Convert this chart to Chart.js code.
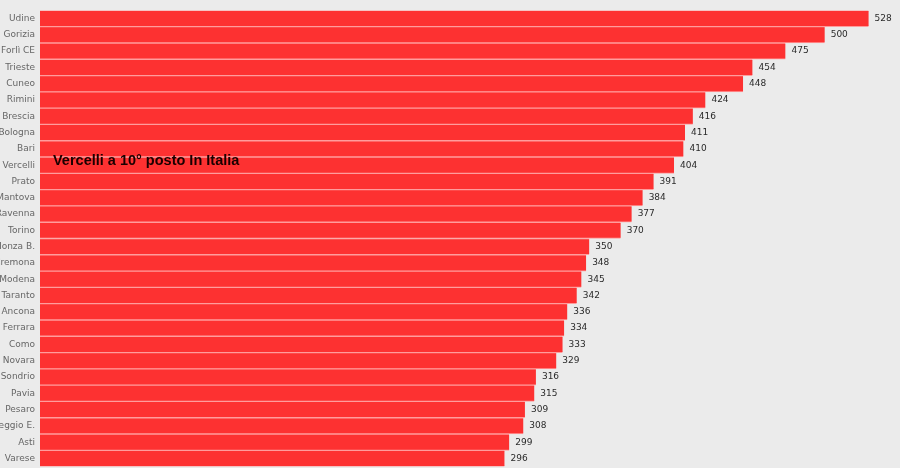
<!DOCTYPE html>
<html>
<head>
<meta charset="utf-8">
<script src="https://cdn.jsdelivr.net/npm/chart.js@4"></script>
<style>
  html, body { margin: 0; padding: 0; background: #ebebeb; overflow: hidden; }
  #wrap { width: 900px; height: 477px; position: relative; }
</style>
</head>
<body>
<div id="wrap"><canvas id="barChart"></canvas></div>
<script>
const cities = ['Udine', 'Gorizia', 'Forlì CE', 'Trieste', 'Cuneo', 'Rimini', 'Brescia', 'Bologna', 'Bari', 'Vercelli',
  'Prato', 'Mantova', 'Ravenna', 'Torino', 'Monza B.', 'Cremona', 'Modena', 'Taranto', 'Ancona', 'Ferrara',
  'Como', 'Novara', 'Sondrio', 'Pavia', 'Pesaro', 'Reggio E.', 'Asti', 'Varese'];
const values = [528, 500, 475, 454, 448, 424, 416, 411, 410, 404,
  391, 384, 377, 370, 350, 348, 345, 342, 336, 334,
  333, 329, 316, 315, 309, 308, 299, 296];
const note = 'Vercelli a 10° posto In Italia';

// numbers at the end of each bar
const valueLabels = {
  id: 'valueLabels',
  afterDatasetsDraw(chart) {
    const ctx = chart.ctx;
    const meta = chart.getDatasetMeta(0);
    ctx.save();
    ctx.font = '9px "DejaVu Sans", sans-serif';
    ctx.fillStyle = '#2a2a2a';
    ctx.textBaseline = 'middle';
    meta.data.forEach((bar, i) => {
      ctx.fillText(values[i], bar.x + 6, bar.y);
    });
    ctx.restore();
  }
};

// bold note over the Vercelli bar
const noteText = {
  id: 'noteText',
  afterDraw(chart) {
    const ctx = chart.ctx;
    const bar = chart.getDatasetMeta(0).data[cities.indexOf('Vercelli')];
    ctx.save();
    ctx.font = 'bold 14.5px "Liberation Sans", Arial, sans-serif';
    ctx.fillStyle = '#1a0000';
    ctx.textBaseline = 'middle';
    ctx.fillText(note, chart.chartArea.left + 13, bar.y - 4);
    ctx.restore();
  }
};

new Chart(document.getElementById('barChart'), {
  type: 'bar',
  data: {
    labels: cities,
    datasets: [{
      data: values,
      backgroundColor: '#fd3131',
      borderColor: '#ff9c9c',
      borderWidth: { top: 1, bottom: 1, left: 0, right: 0 },
      borderSkipped: false,
      categoryPercentage: 1,
      barPercentage: 1
    }]
  },
  options: {
    indexAxis: 'y',
    responsive: true,
    maintainAspectRatio: false,
    animation: false,
    layout: { padding: { top: 4, bottom: 2, left: 0, right: 0 } },
    plugins: {
      legend: { display: false },
      tooltip: { enabled: false }
    },
    scales: {
      x: {
        display: false,
        min: 0,
        max: 548
      },
      y: {
        grid: { display: false, drawTicks: false, tickLength: 0 },
        border: { display: false },
        afterFit(scale) { scale.width = 40; },
        ticks: {
          color: '#666',
          padding: 5,
          font: { size: 9, family: '"DejaVu Sans", sans-serif' }
        }
      }
    }
  },
  plugins: [valueLabels, noteText]
});
</script>
</body>
</html>
